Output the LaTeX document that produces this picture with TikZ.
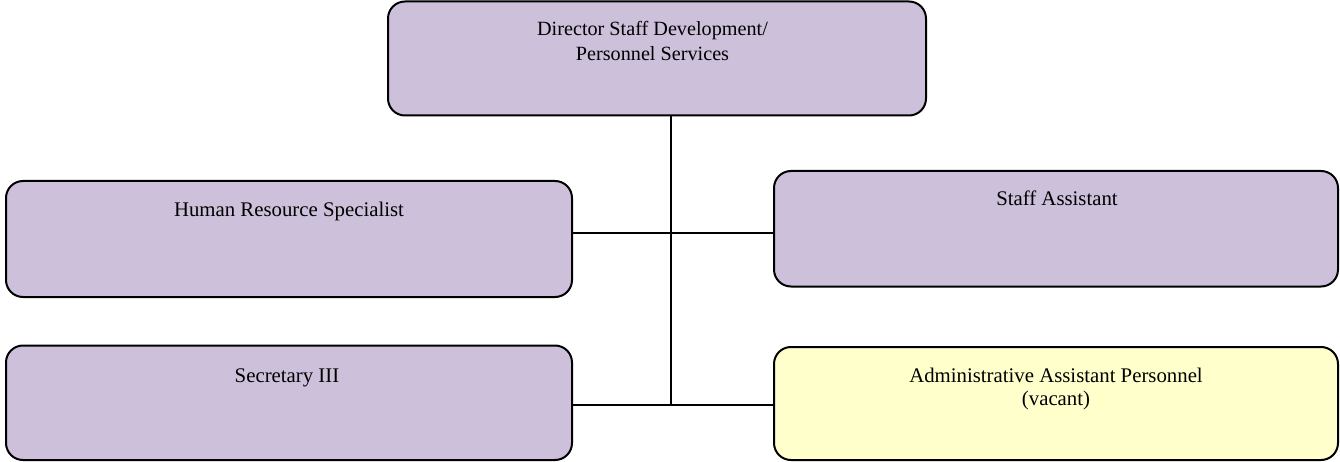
\documentclass[tikz,border=0pt]{standalone}
\usepackage{fontspec}
\setmainfont{Liberation Serif}
\definecolor{lilac}{HTML}{CCC0DA}
\definecolor{paleyellow}{HTML}{FFFFCC}
\begin{document}
\begin{tikzpicture}[x=1pt,y=-1pt,
  box/.style={draw=black, line width=2pt, rounded corners=17pt, fill=lilac, inner sep=0pt},
  lbl/.style={anchor=north, inner sep=0pt, align=center, text=black},
  conn/.style={draw=black, line width=1.8pt}]
\useasboundingbox (0,0) rectangle (1340,462);
% boxes
\node[box, minimum width=538pt, minimum height=114pt] (dir) at (657,58.5) {};
\node[box, minimum width=566pt, minimum height=116pt] (hr) at (289,239) {};
\node[box, minimum width=564pt, minimum height=115.5pt] (sa) at (1056,228.75) {};
\node[box, minimum width=566pt, minimum height=114.5pt] (sec) at (289,402.75) {};
\node[box, fill=paleyellow, minimum width=564pt, minimum height=113pt] (adm) at (1056,403.5) {};
% texts
\node[lbl, font=\fontsize{20.2}{25}\selectfont] (dirT) at (652.5,21) {\rule{0pt}{14pt}Director Staff Development/\\Personnel Services};
\node[lbl, font=\fontsize{20.8}{24}\selectfont] (hrT) at (289,201.7) {\rule{0pt}{14pt}Human Resource Specialist};
\node[lbl, font=\fontsize{20.8}{24}\selectfont] (saT) at (1057,190.3) {\rule{0pt}{14pt}Staff Assistant};
\node[lbl, font=\fontsize{20.8}{24}\selectfont] (secT) at (287,368.5) {\rule{0pt}{14pt}Secretary III};
\node[lbl, font=\fontsize{20.8}{23}\selectfont] (admT) at (1056,368.3) {\rule{0pt}{14pt}Administrative Assistant Personnel\\(vacant)};
% connectors
\coordinate (jt) at (671,116);
\coordinate (jm) at (671,233);
\coordinate (jb) at (671,405);
\draw[conn] (jt) -- (jb);
\draw[conn] (hr.east |- jm) -- (sa.west |- jm);
\draw[conn] (sec.east |- jb) -- (adm.west |- jb);
\end{tikzpicture}
\end{document}
